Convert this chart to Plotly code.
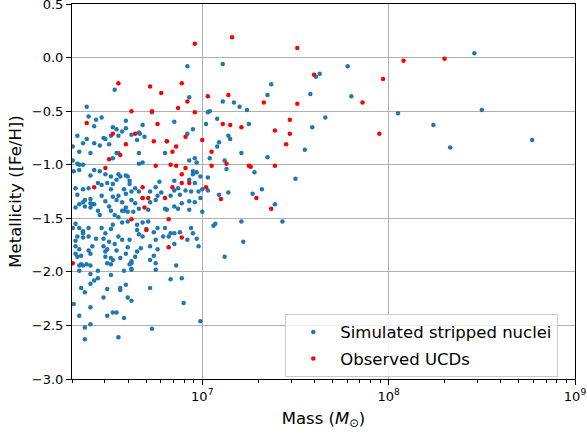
import plotly.graph_objects as go

# ---- Data ----
# log10 of mass in solar masses, and [Fe/H]
sim_log_mass = [
    6.92, 6.53, 6.93, 6.38, 6.73, 7.04, 6.39, 6.43, 6.46, 6.59, 6.85, 6.68, 6.42, 7.02, 6.52, 6.54,
    6.59, 6.57, 6.95, 6.66, 6.665, 6.62, 6.92, 6.33, 6.51, 6.55, 6.47, 6.48, 6.65, 6.69, 6.38, 6.36,
    6.42, 6.45, 6.50, 6.81, 6.305, 6.54, 6.55, 6.66, 6.80, 6.52, 6.34, 6.40, 6.96, 6.93, 6.305, 6.68,
    6.66, 6.97, 6.33, 6.34, 6.36, 6.31, 6.34, 6.42, 6.45, 6.48, 6.51, 6.55, 6.59, 6.60, 6.61, 6.61,
    6.54, 6.56, 6.40, 6.95, 6.95, 6.97, 6.96, 6.85, 6.93, 6.99, 7.03, 6.32, 6.36, 6.39, 6.44, 6.46,
    6.49, 6.52, 6.51, 6.58, 6.62, 6.64, 6.66, 6.72, 6.77, 6.75, 6.78, 6.85, 6.87, 6.91, 6.94, 6.98,
    7.00, 7.03, 6.83, 6.33, 6.37, 6.36, 6.40, 6.41, 6.46, 6.48, 6.52, 6.54, 6.55, 6.57, 6.59, 6.62,
    6.64, 6.68, 6.72, 6.75, 6.76, 6.88, 6.89, 6.93, 6.96, 6.99, 6.32, 6.34, 6.37, 6.40, 6.40, 6.42,
    6.44, 6.50, 6.51, 6.57, 6.58, 6.59, 6.60, 6.63, 6.66, 6.71, 6.80, 6.81, 6.85, 6.87, 6.93, 7.00,
    6.45, 6.53, 6.55, 6.57, 6.32, 6.305, 6.34, 6.36, 6.39, 6.43, 6.46, 6.48, 6.51, 6.52, 6.55, 6.60,
    6.68, 6.70, 6.74, 6.76, 6.80, 6.83, 6.85, 6.88, 6.94, 6.95, 6.71, 6.65, 6.65, 6.33, 6.36, 6.32,
    6.36, 6.39, 6.41, 6.47, 6.50, 6.53, 6.57, 6.61, 6.66, 6.68, 6.72, 6.75, 6.79, 6.82, 6.85, 6.92,
    6.97, 6.98, 6.32, 6.34, 6.47, 6.49, 6.60, 6.67, 6.76,
    6.32, 6.35, 6.33, 6.40, 6.39, 6.48, 6.54, 6.59, 6.65, 6.48, 6.51, 6.52, 6.56, 6.64, 6.62, 6.62,
    6.61, 6.72, 6.74, 6.75, 6.75, 6.86, 6.35, 6.34, 6.36, 6.38, 6.40, 6.49, 6.51, 6.34, 6.44, 6.40,
    6.51, 6.58, 6.62, 6.62, 6.40, 6.42, 6.44, 6.35, 6.37, 6.49, 6.56, 6.56, 6.59, 6.47, 6.60, 6.62,
    6.72, 6.83, 6.89, 6.31, 6.40, 6.34, 6.90, 6.52, 6.54, 6.49, 6.58, 6.40, 6.99, 6.37, 6.73, 6.37,
    6.55,
    7.11, 7.61, 7.63, 7.37, 7.11, 7.17, 7.35, 7.58, 7.20, 7.24, 7.03, 7.66, 7.08, 7.25, 7.59, 7.14,
    7.15, 7.09, 7.08, 7.21, 7.55, 7.04, 7.12, 7.35, 7.13, 7.28, 7.50, 7.32, 7.09, 7.14, 7.27, 7.39,
    7.07, 7.06, 7.21, 7.43, 7.22, 7.12,
    7.78, 8.46, 7.80, 8.05, 8.50, 8.24, 8.33, 8.77,
]
sim_feh = [
    -0.08, -0.30, -0.37, -0.46, -0.51, -0.50, -0.55, -0.58, -0.56, -0.59, -0.60, -0.63, -0.64, -0.62, -0.65, -0.67,
    -0.66, -0.69, -0.67, -0.70, -0.71, -0.72, -0.71, -0.73, -0.73, -0.73, -0.75, -0.76, -0.77, -0.74, -0.76, -0.80,
    -0.80, -0.82, -0.81, -0.78, -0.83, -0.89, -0.89, -0.89, -0.89, -0.94, -0.88, -0.89, -0.94, -0.96, -0.96, -0.98,
    -0.99, -0.98, -0.99, -1.00, -1.00, -1.06, -1.05, -1.05, -1.06, -1.09, -1.11, -1.09, -1.10, -1.11, -1.15, -1.18,
    -1.14, -1.11, -1.10, -1.09, -1.06, -1.07, -1.17, -1.15, -1.14, -1.11, -1.12, -1.22, -1.23, -1.22, -1.17, -1.19,
    -1.17, -1.18, -1.23, -1.23, -1.25, -1.22, -1.25, -1.25, -1.16, -1.21, -1.26, -1.24, -1.22, -1.24, -1.25, -1.25,
    -1.23, -1.24, -1.29, -1.28, -1.33, -1.35, -1.32, -1.37, -1.29, -1.34, -1.30, -1.33, -1.29, -1.35, -1.27, -1.33,
    -1.36, -1.31, -1.35, -1.33, -1.29, -1.28, -1.36, -1.34, -1.35, -1.31, -1.40, -1.37, -1.39, -1.36, -1.40, -1.37,
    -1.43, -1.39, -1.43, -1.43, -1.43, -1.40, -1.44, -1.44, -1.41, -1.42, -1.41, -1.42, -1.39, -1.41, -1.42, -1.44,
    -1.47, -1.47, -1.49, -1.54, -1.55, -1.59, -1.59, -1.62, -1.59, -1.69, -1.59, -1.64, -1.60, -1.56, -1.67, -1.53,
    -1.54, -1.60, -1.63, -1.59, -1.59, -1.64, -1.64, -1.63, -1.59, -1.64, -1.53, -1.56, -1.61, -1.67, -1.64, -1.71,
    -1.68, -1.67, -1.76, -1.69, -1.72, -1.74, -1.70, -1.70, -1.65, -1.67, -1.76, -1.70, -1.67, -1.67, -1.74, -1.70,
    -1.69, -1.76, -1.76, -1.79, -1.76, -1.79, -1.77, -1.78, -1.79,
    -1.83, -1.85, -1.86, -1.83, -1.80, -1.81, -1.80, -1.83, -1.81, -1.86, -1.87, -1.89, -1.87, -1.86, -1.90, -1.92,
    -1.93, -1.89, -1.85, -1.92, -1.98, -1.94, -1.93, -1.94, -1.94, -1.93, -1.94, -1.92, -1.93, -1.99, -1.99, -2.02,
    -2.03, -1.99, -1.98, -1.97, -2.11, -2.08, -2.06, -2.15, -2.19, -2.16, -2.15, -2.17, -2.12, -2.24, -2.24, -2.27,
    -2.15, -2.07, -2.06, -2.30, -2.33, -2.41, -2.29, -2.38, -2.38, -2.41, -2.43, -2.49, -2.46, -2.52, -2.53, -2.63,
    -2.61,
    -0.06, -0.18, -0.15, -0.25, -0.41, -0.42, -0.35, -0.34, -0.46, -0.49, -0.51, -0.56, -0.57, -0.62, -0.65, -0.73,
    -0.76, -0.79, -0.83, -0.89, -0.86, -0.94, -0.96, -0.93, -1.04, -1.07, -1.13, -1.23, -1.28, -1.26, -1.27, -1.37,
    -1.55, -1.57, -1.53, -1.53, -1.72, -1.86,
    -0.08, 0.04, -0.36, -0.52, -0.49, -0.63, -0.84, -0.77,
]

ucd_log_mass = [
    6.96, 6.55, 6.72, 6.78, 6.89, 6.92, 7.03, 6.87, 6.62, 6.73, 6.96, 6.38, 6.76, 6.52, 6.64, 6.91,
    6.74, 6.81, 7.00, 6.86, 6.84, 6.59, 6.56, 6.50, 6.75, 6.83, 6.86, 6.91, 6.48, 6.89, 6.89, 6.93,
    6.68, 6.84, 7.02, 6.42, 6.68, 6.71, 6.80, 6.69, 6.62, 6.82, 6.70, 6.89, 6.82, 6.305,
    7.16, 7.51, 7.60, 7.14, 7.33, 7.51, 7.47, 7.11, 7.15, 7.21, 7.39, 7.47, 7.45, 7.05, 7.13, 7.05,
    7.25, 7.26, 7.39, 7.10, 7.29, 7.37, 8.08, 8.30, 7.97, 7.86, 7.95,
]
ucd_feh = [
    0.13, -0.24, -0.27, -0.33, -0.24, -0.41, -0.36, -0.47, -0.50, -0.50, -0.51, -0.61, -0.62, -0.71, -0.71, -0.74,
    -0.78, -0.78, -0.77, -0.83, -0.88, -0.81, -0.91, -0.95, -1.01, -1.00, -1.01, -1.03, -1.03, -1.09, -1.17, -1.17,
    -1.21, -1.21, -1.21, -1.21, -1.31, -1.31, -1.31, -1.40, -1.51, -1.51, -1.61, -1.68, -1.77, -1.92,
    0.19, 0.09, -0.16, -0.35, -0.42, -0.43, -0.58, -0.62, -0.63, -0.65, -0.68, -0.71, -0.81, -0.88, -0.99, -1.01,
    -1.01, -1.02, -1.01, -1.32, -1.31, -1.41, -0.03, -0.01, -0.20, -0.42, -0.71,
]

x_tick_exponents = [7, 8, 9]
y_tick_values = [-3.0, -2.5, -2.0, -1.5, -1.0, -0.5, 0.0, 0.5]

sim_mass = [10 ** v for v in sim_log_mass]
ucd_mass = [10 ** v for v in ucd_log_mass]

FONT = "DejaVu Sans"

fig = go.Figure()
fig.add_trace(go.Scatter(
    x=sim_mass, y=sim_feh, mode="markers", name="Simulated stripped nuclei",
    legendgroup="a",
    marker=dict(color="#1f77b4", size=4.5, line=dict(width=0)),
))
fig.add_trace(go.Scatter(
    x=ucd_mass, y=ucd_feh, mode="markers", name="Observed UCDs",
    legendgroup="b",
    marker=dict(color="#ff0000", size=4.5, line=dict(width=0)),
))

minor_vals = [m * 10 ** e for e in (6, 7, 8) for m in range(2, 10)]

fig.update_layout(
    width=587, height=434,
    margin=dict(l=72, r=12, t=4, b=55),
    paper_bgcolor="white", plot_bgcolor="white",
    font=dict(family=FONT, size=13, color="black"),
    showlegend=True,
    legend=dict(
        x=0.424, y=0.006, xanchor="left", yanchor="bottom",
        bgcolor="rgba(255,255,255,0.8)", bordercolor="#cccccc", borderwidth=1,
        font=dict(family=FONT, size=16.5, color="black"),
        itemwidth=44, tracegroupgap=2, traceorder="grouped",
    ),
)
fig.update_xaxes(
    type="log", range=[6.301, 9.0], automargin=False,
    tickvals=[10 ** e for e in x_tick_exponents],
    ticktext=["10<sup>%d</sup>" % e for e in x_tick_exponents],
    tickfont=dict(family=FONT, size=13),
    ticks="outside", ticklen=5, tickwidth=1, tickcolor="black",
    showline=True, linecolor="black", linewidth=1, mirror=True,
    showgrid=True, gridcolor="#b0b0b0", gridwidth=1, zeroline=False,
    ticklabeloverflow="allow",
    minor=dict(tickvals=minor_vals, ticks="outside", ticklen=3, tickwidth=1,
               tickcolor="black", showgrid=False),
    title=dict(text="Mass (<i>M</i><sub>⊙</sub>)", font=dict(family=FONT, size=16.5), standoff=9),
)
fig.update_yaxes(
    range=[-3.0, 0.5], automargin=False,
    tickvals=y_tick_values, tickformat=".1f",
    tickfont=dict(family=FONT, size=13),
    ticks="outside", ticklen=5, tickwidth=1, tickcolor="black",
    showline=True, linecolor="black", linewidth=1, mirror=True,
    ticklabeloverflow="allow",
    showgrid=True, gridcolor="#b0b0b0", gridwidth=1, zeroline=False,
    title=dict(text="Metallicity ([Fe/H])", font=dict(family=FONT, size=16.5), standoff=6),
)

fig.write_html(
    "out.html",
    config={"displayModeBar": False},
    post_script="document.body.style.margin='0';document.body.style.overflow='hidden';",
)
